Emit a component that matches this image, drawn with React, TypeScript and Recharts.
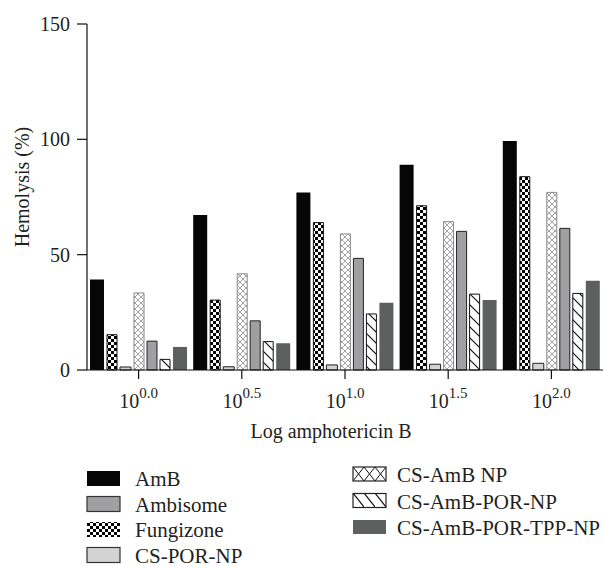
import { BarChart, Bar, XAxis, YAxis } from "recharts";

// log amphotericin B exponents (x axis)
const exponents = ["0.0", "0.5", "1.0", "1.5", "2.0"];

// hemolysis (%) per formulation
const amb = [39.2, 67.2, 77, 89, 99.3];
const fungizone = [15.3, 30.3, 63.9, 71.2, 83.8];
const csPorNp = [1.3, 1.4, 2.2, 2.5, 2.9];
const csAmbNp = [33.4, 41.7, 59, 64.3, 77];
const ambisome = [12.5, 21.3, 48.4, 60.1, 61.4];
const csAmbPorNp = [4.6, 12.3, 24.3, 32.9, 33.2];
const csAmbPorTppNp = [10, 11.6, 29.2, 30.3, 38.7];

const yTicks = [0, 50, 100, 150];

const data = exponents.map((e, i) => ({
  exp: e,
  amb: amb[i],
  fungizone: fungizone[i],
  csPorNp: csPorNp[i],
  csAmbNp: csAmbNp[i],
  ambisome: ambisome[i],
  csAmbPorNp: csAmbPorNp[i],
  csAmbPorTppNp: csAmbPorTppNp[i],
}));

const FONT = "'Liberation Serif', 'Times New Roman', serif";
const TXT = "#231f20";

const XTick = (props: any) => {
  const { x, y, payload } = props;
  return (
    <text x={x} y={y + 27} textAnchor="middle" fontFamily={FONT} fontSize={20} fill={TXT}>
      10
      <tspan dy={-10} fontSize={15}>
        {payload.value}
      </tspan>
    </text>
  );
};

const legendLeft = [
  { name: "AmB", fill: "#060606", stroke: "none" },
  { name: "Ambisome", fill: "#a0a0a3", stroke: "#333" },
  { name: "Fungizone", fill: "url(#lgChecker)", stroke: "none" },
  { name: "CS-POR-NP", fill: "#d3d3d3", stroke: "#333" },
];
const legendRight = [
  { name: "CS-AmB NP", fill: "url(#lgCross)", stroke: "#222" },
  { name: "CS-AmB-POR-NP", fill: "url(#lgDiag)", stroke: "#222" },
  { name: "CS-AmB-POR-TPP-NP", fill: "#5e605f", stroke: "none" },
];

const App = () => {
  return (
    <div style={{ position: "absolute", left: 0, top: 0, width: 603, height: 566, background: "#fff" }}>
      <BarChart
        width={603}
        height={566}
        data={data}
        barGap={3}
        margin={{ top: 24, right: 0, left: 0, bottom: 126 }}
      >
        <defs>
          <pattern id="checker" patternUnits="userSpaceOnUse" width={6} height={6}>
            <rect width={6} height={6} fill="#fff" />
            <rect width={3} height={3} fill="#000" />
            <rect x={3} y={3} width={3} height={3} fill="#000" />
          </pattern>
          <pattern id="cross" patternUnits="userSpaceOnUse" width={6} height={6}>
            <rect width={6} height={6} fill="#fff" />
            <path d="M0,0 L6,6 M6,0 L0,6" stroke="#9a9a9a" strokeWidth={0.9} />
          </pattern>
          <pattern id="diag" patternUnits="userSpaceOnUse" width={11} height={11}>
            <rect width={11} height={11} fill="#fff" />
            <path d="M0,0 L11,11 M-2,9 L2,13 M9,-2 L13,2" stroke="#111" strokeWidth={1.2} />
          </pattern>
        </defs>
        <XAxis
          dataKey="exp"
          height={70}
          tick={<XTick />}
          tickSize={9}
          axisLine={{ stroke: "#111", strokeWidth: 1.2 }}
          tickLine={{ stroke: "#111", strokeWidth: 1.2 }}
          label={() => (
            <text x={331} y={438} textAnchor="middle" fontFamily={FONT} fontSize={20} fill={TXT}>
              Log amphotericin B
            </text>
          )}
        />
        <YAxis
          width={87}
          domain={[0, 150]}
          ticks={yTicks}
          tickSize={10}
          tickMargin={7}
          tick={{ fontFamily: FONT, fontSize: 20, fill: TXT }}
          axisLine={{ stroke: "#111", strokeWidth: 1.2 }}
          tickLine={{ stroke: "#111", strokeWidth: 1.2 }}
          label={() => (
            <text transform="translate(29,187) rotate(-90)" textAnchor="middle" fontFamily={FONT} fontSize={20} fill={TXT}>
              Hemolysis (%)
            </text>
          )}
        />
        <Bar dataKey="amb" barSize={14} fill="#060606" isAnimationActive={false} />
        <Bar dataKey="fungizone" barSize={10} fill="url(#checker)" stroke="#111" strokeWidth={1} isAnimationActive={false} />
        <Bar dataKey="csPorNp" barSize={11} fill="#d3d3d3" stroke="#222" strokeWidth={1} isAnimationActive={false} />
        <Bar dataKey="csAmbNp" barSize={10} fill="url(#cross)" stroke="#888" strokeWidth={1} isAnimationActive={false} />
        <Bar dataKey="ambisome" barSize={10} fill="#a0a0a3" stroke="#222" strokeWidth={1} isAnimationActive={false} />
        <Bar dataKey="csAmbPorNp" barSize={10} fill="url(#diag)" stroke="#111" strokeWidth={1} isAnimationActive={false} />
        <Bar dataKey="csAmbPorTppNp" barSize={14} fill="#5e605f" isAnimationActive={false} />
      </BarChart>

      <svg width={603} height={106} style={{ position: "absolute", left: 0, top: 460 }}>
        <defs>
          <pattern id="lgChecker" patternUnits="userSpaceOnUse" width={6} height={6}>
            <rect width={6} height={6} fill="#fff" />
            <rect width={3} height={3} fill="#000" />
            <rect x={3} y={3} width={3} height={3} fill="#000" />
          </pattern>
          <pattern id="lgCross" patternUnits="userSpaceOnUse" width={11} height={14} x={353} y={7}>
            <rect width={11} height={14} fill="#fff" />
            <path d="M0,0 L11,14 M11,0 L0,14" stroke="#111" strokeWidth={1} />
          </pattern>
          <pattern id="lgDiag" patternUnits="userSpaceOnUse" width={11} height={14} x={353} y={33}>
            <rect width={11} height={14} fill="#fff" />
            <path d="M0,0 L11,14" stroke="#111" strokeWidth={1.2} />
          </pattern>
        </defs>
        {legendLeft.map((d, i) => (
          <g key={d.name}>
            <rect x={87} y={11 + i * 25.5} width={33} height={15} fill={d.fill} stroke={d.stroke} strokeWidth={1.2} />
            <text x={135} y={26 + i * 25.5} fontFamily={FONT} fontSize={21} fill={TXT}>
              {d.name}
            </text>
          </g>
        ))}
        {legendRight.map((d, i) => (
          <g key={d.name}>
            <rect x={353} y={7 + i * 26.5} width={33} height={14} fill={d.fill} stroke={d.stroke} strokeWidth={1.2} />
            <text x={397} y={22 + i * 26.5} fontFamily={FONT} fontSize={21} fill={TXT}>
              {d.name}
            </text>
          </g>
        ))}
      </svg>
    </div>
  );
};

export default App;
